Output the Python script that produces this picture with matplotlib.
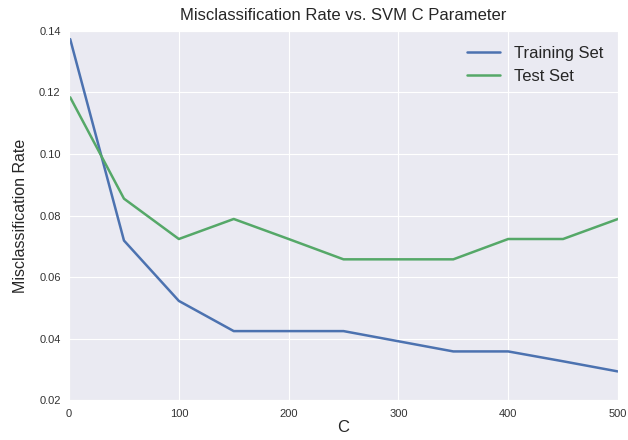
import matplotlib
matplotlib.use("Agg")
import matplotlib.pyplot as plt
import seaborn as sns

# C values tried for the SVM
c_values = [1, 50, 100, 150, 200, 250, 300, 350, 400, 450, 500]
# misclassification rates
train_err = [0.1373, 0.0719, 0.0523, 0.0425, 0.0425, 0.0425, 0.0392, 0.0359, 0.0359, 0.0327, 0.0294]
test_err = [0.1184, 0.0855, 0.0724, 0.0789, 0.0724, 0.0658, 0.0658, 0.0658, 0.0724, 0.0724, 0.0789]

sns.set_style("darkgrid")
plt.rcParams['font.family'] = ['Liberation Sans', 'DejaVu Sans']

fig = plt.figure(figsize=(6.28, 4.4), dpi=100)
ax = fig.add_axes([0.11, 0.09, 0.874, 0.84])

ax.plot(c_values, train_err, color='#4C72B0', lw=1.8, label='Training Set')
ax.plot(c_values, test_err, color='#55A868', lw=1.8, label='Test Set')

ax.set_xlim(0, 500)
ax.set_ylim(0.02, 0.14)
ax.set_xticks([0, 100, 200, 300, 400, 500])
ax.set_yticks([0.02, 0.04, 0.06, 0.08, 0.10, 0.12, 0.14])
ax.tick_params(labelsize=8, colors='#333333', length=0, pad=6)
ax.set_title('Misclassification Rate vs. SVM C Parameter', fontsize=12, color='#262626', pad=8)
ax.set_xlabel('C', fontsize=12, color='#262626', labelpad=1)
ax.set_ylabel('Misclassification Rate', fontsize=11.5, color='#262626', labelpad=8)
ax.legend(loc='upper right', fontsize=12, frameon=False)

fig.savefig('out.png', dpi=100)
